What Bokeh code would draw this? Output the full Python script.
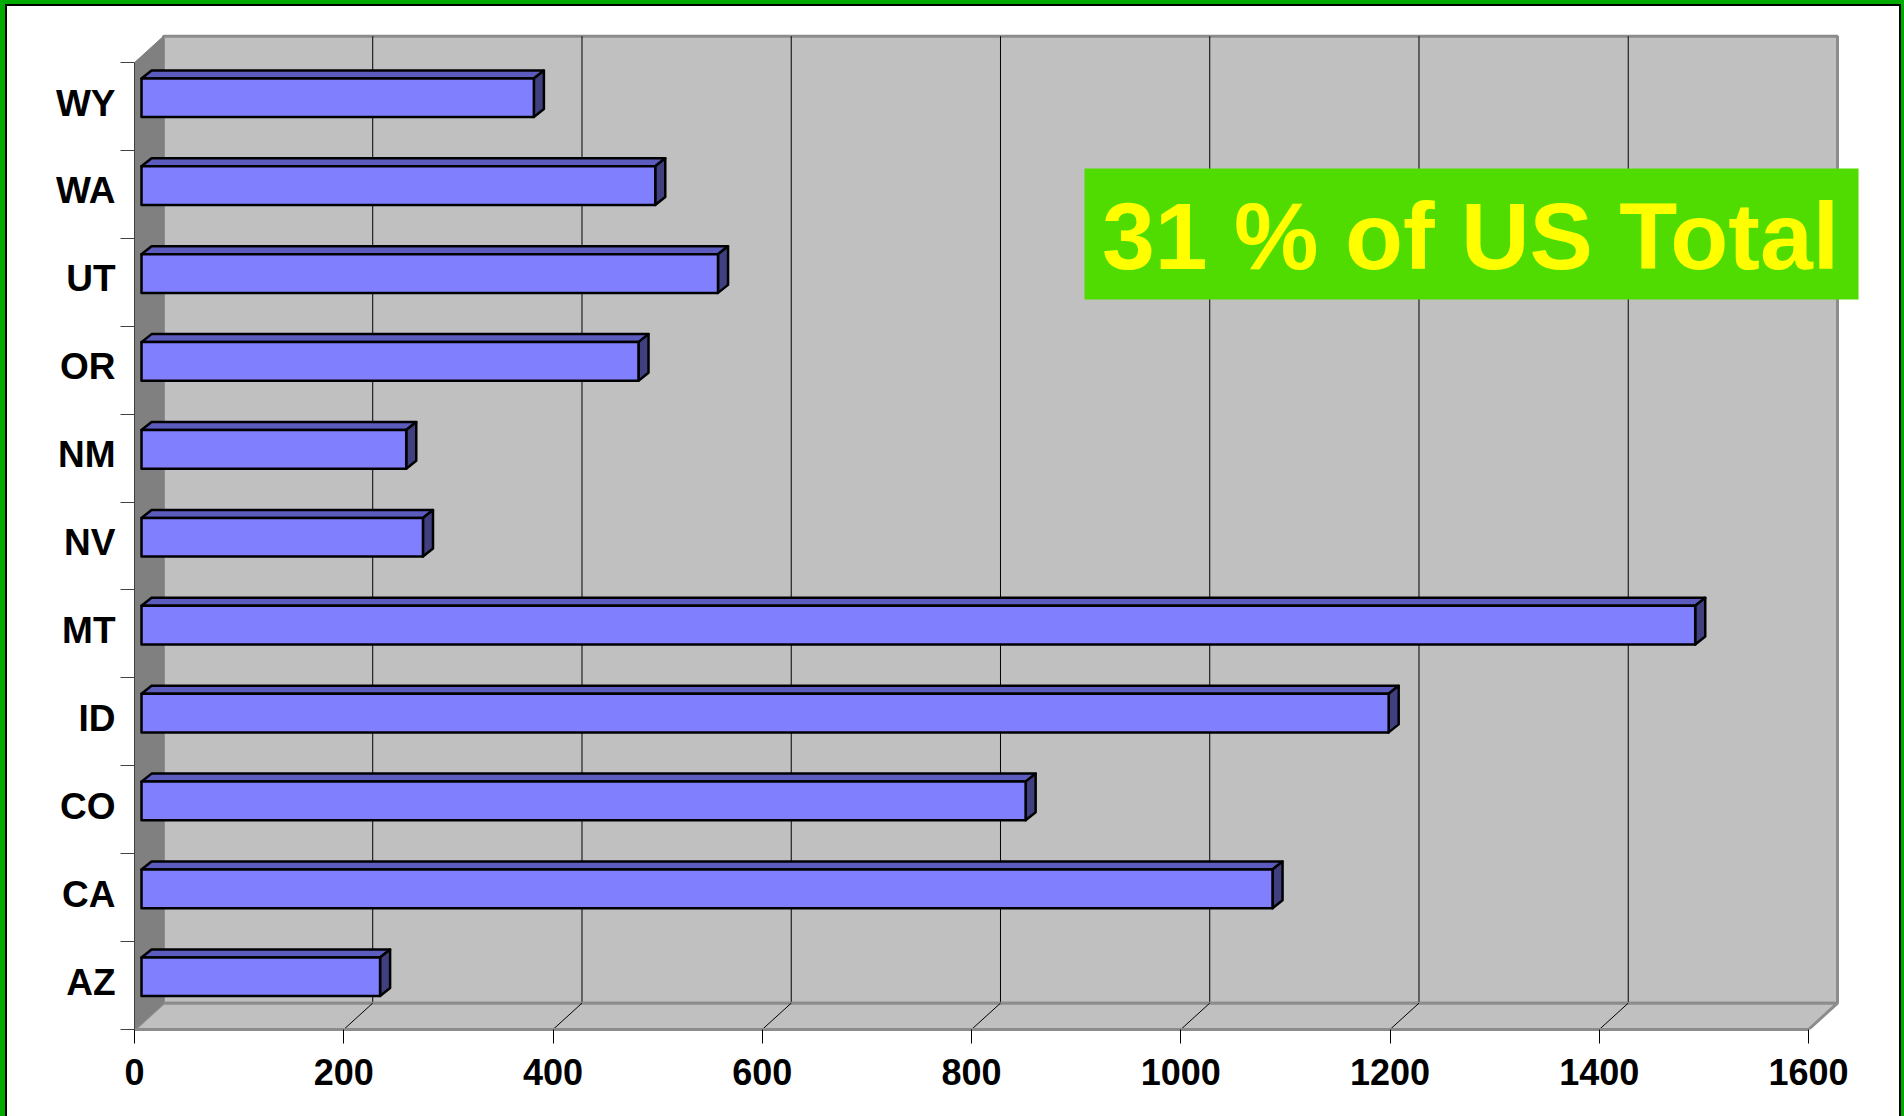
from bokeh.plotting import figure
from bokeh.models import Range1d, FixedTicker, BoxAnnotation, Label
from bokeh.embed import file_html
from bokeh.resources import INLINE

# ---- data -------------------------------------------------------------
states = ["AZ", "CA", "CO", "ID", "MT", "NV", "NM", "OR", "UT", "WA", "WY"]
values = [228, 1081, 845, 1192, 1485, 269, 253, 475, 551, 491, 375]
x_ticks = [0, 200, 400, 600, 800, 1000, 1200, 1400, 1600]
note = "31 % of US Total"

# ---- geometry of the oblique 3-D box (data units) ---------------------
X_MAX = x_ticks[-1]
N = len(states)
DEPTH_X = 27.7      # how far the back wall sits to the right of the front plane
DEPTH_Y = 0.30      # and how far above it
BAR_SHIFT_X = 6.7   # front face of the bars, pushed into the box
BAR_SHIFT_Y = 0.10
BAR_DX = 9.6        # thickness of each bar
BAR_DY = 0.091
BAR_H = 0.44

FONT = "Liberation Sans"

p = figure(width=1904, height=1116, output_backend="svg", toolbar_location=None,
           x_range=Range1d(0, 1651.6), y_range=Range1d(0, 11.365),
           min_border_left=134, min_border_right=42, min_border_top=30,
           min_border_bottom=87, background_fill_color="white",
           border_fill_color=None, outline_line_color=None)

# green frame round the page
p.styles = {
    "background-color": "white",
    "box-shadow": ("inset 5px 0 0 0 #00AA00, inset -3px 0 0 0 #00AA00, "
                   "inset 0 4px 0 0 #00AA00, inset 7px 0 0 0 #000000, "
                   "inset -5px 0 0 0 #000000, inset 0 6px 0 0 #000000"),
}

p.xgrid.visible = False
p.ygrid.visible = False

# ---- walls and floor ---------------------------------------------------
p.quad(left=[DEPTH_X], right=[X_MAX + DEPTH_X], bottom=[DEPTH_Y], top=[N + DEPTH_Y],
       fill_color="#C0C0C0", line_color="#8C8C8C", line_width=3)

inner = x_ticks[1:-1]
p.segment(x0=[t + DEPTH_X for t in inner], y0=[DEPTH_Y] * len(inner),
          x1=[t + DEPTH_X for t in inner], y1=[N + DEPTH_Y] * len(inner),
          line_color="black", line_width=1)

p.patch(x=[0, X_MAX, X_MAX + DEPTH_X, DEPTH_X], y=[0, 0, DEPTH_Y, DEPTH_Y],
        fill_color="#C0C0C0", line_color="#8C8C8C", line_width=3)
p.segment(x0=inner, y0=[0] * len(inner),
          x1=[t + DEPTH_X for t in inner], y1=[DEPTH_Y] * len(inner),
          line_color="black", line_width=1)

p.patch(x=[0, DEPTH_X, DEPTH_X, 0], y=[0, DEPTH_Y, N + DEPTH_Y, N],
        fill_color="#808080", line_color="#808080", line_width=1)

# ---- bars --------------------------------------------------------------
x0 = BAR_SHIFT_X
yc = [i + 0.5 + BAR_SHIFT_Y for i in range(N)]
bottoms = [c - BAR_H / 2 for c in yc]
tops = [c + BAR_H / 2 for c in yc]
ends = [x0 + v for v in values]

top_xs = [[x0, e, e + BAR_DX, x0 + BAR_DX] for e in ends]
top_ys = [[t, t, t + BAR_DY, t + BAR_DY] for t in tops]
side_xs = [[e, e + BAR_DX, e + BAR_DX, e] for e in ends]
side_ys = [[b, b + BAR_DY, t + BAR_DY, t] for b, t in zip(bottoms, tops)]

p.patches(xs=top_xs, ys=top_ys, fill_color="#5C5CBF", line_color="black",
          line_width=2.5, line_join="round")
p.patches(xs=side_xs, ys=side_ys, fill_color="#404080", line_color="black",
          line_width=2.5, line_join="round")
p.quad(left=[x0] * N, right=ends, bottom=bottoms, top=tops,
       fill_color="#8080FF", line_color="black", line_width=2.5, line_join="round")

# ---- axes --------------------------------------------------------------
xa = p.xaxis[0]
xa.ticker = FixedTicker(ticks=x_ticks, minor_ticks=[])
xa.bounds = (0, X_MAX)
xa.axis_line_color = "#8C8C8C"
xa.axis_line_width = 3
xa.major_tick_out = 14
xa.major_tick_in = 0
xa.major_tick_line_color = "black"
xa.major_label_standoff = 15
xa.major_label_text_font = FONT
xa.major_label_text_font_style = "bold"
xa.major_label_text_font_size = "36px"
xa.major_label_text_color = "black"

label_pos = [i + 0.54 for i in range(N)]
ya = p.yaxis[0]
ya.ticker = FixedTicker(ticks=label_pos, minor_ticks=list(range(N + 1)))
ya.major_label_overrides = {pos: s for pos, s in zip(label_pos, states)}
ya.bounds = (0, N)
ya.axis_line_color = "#404040"
ya.axis_line_width = 1
ya.major_tick_out = 0
ya.major_tick_in = 0
ya.minor_tick_out = 14
ya.minor_tick_in = 0
ya.minor_tick_line_color = "#404040"
ya.major_label_standoff = 5
ya.major_label_text_font = FONT
ya.major_label_text_font_style = "bold"
ya.major_label_text_font_size = "37px"
ya.major_label_text_color = "black"

# ---- call-out ----------------------------------------------------------
p.add_layout(BoxAnnotation(left=908, right=1647.8, bottom=8.305, top=9.795,
                           fill_color="#50DC00", fill_alpha=1, line_color=None))
p.add_layout(Label(x=1277, y=9.03, text=note, text_align="center",
                   text_baseline="alphabetic", text_font=FONT,
                   text_font_style="bold", text_font_size="95px",
                   text_color="#FFFF00"))

open("out.html", "w").write(file_html(p, INLINE))
